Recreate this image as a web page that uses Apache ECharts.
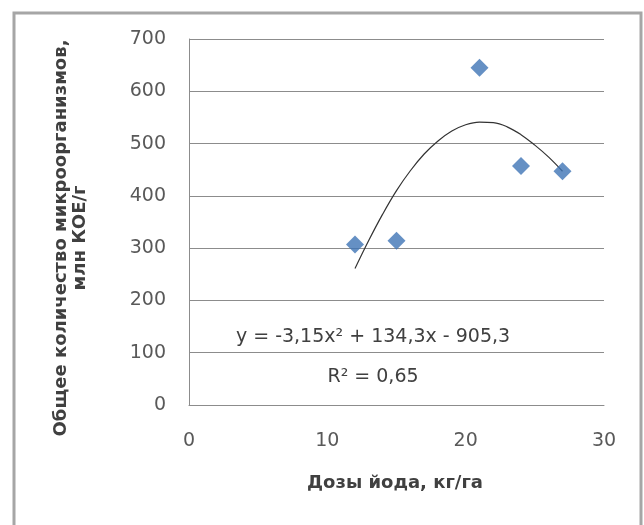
<!DOCTYPE html>
<html>
<head>
<meta charset="utf-8">
<script src="https://cdn.jsdelivr.net/npm/echarts@6/dist/echarts.min.js"></script>
<style>
html,body{margin:0;padding:0;background:#fff;}
#chart{width:644px;height:525px;}
</style>
</head>
<body>
<div id="chart"></div>
<script>
// Observed data points (dose of iodine, kg/ha -> total microorganisms, mln CFU/g)
var doses = [12, 15, 21, 24, 27];
var counts = [307, 314, 645, 457, 447];

// Trendline points
var trendX = [12, 13, 14, 15, 16, 17, 18, 19, 20, 21, 22, 23, 24, 25, 26, 27];
var trendY = [261, 315, 365, 410, 448, 480, 505, 524, 536, 541, 540, 532, 517, 497, 474, 447];

var xTicks = [0, 10, 20, 30];
var yTicks = [0, 100, 200, 300, 400, 500, 600, 700];

var xTitle = 'Дозы йода, кг/га';
var yTitle = 'Общее количество микроорганизмов,\nмлн КОЕ/г';
var eqText = 'y = -3,15x² + 134,3x - 905,3';
var r2Text = 'R² = 0,65';

var chart = echarts.init(document.getElementById('chart'), null, {renderer: 'canvas'});

var scatterData = doses.map(function (d, i) { return [d, counts[i]]; });
var trendData = trendX.map(function (d, i) { return [d, trendY[i]]; });

var font = 'DejaVu Sans';

chart.setOption({
  animation: false,
  backgroundColor: '#ffffff',
  grid: {left: 189, right: 40, top: 39, bottom: 120, containLabel: false},
  xAxis: {
    type: 'value',
    min: xTicks[0], max: xTicks[xTicks.length - 1], interval: 10,
    axisLine: {show: true, onZero: false, lineStyle: {color: '#8c8c8c', width: 1}},
    axisTick: {show: false},
    splitLine: {show: false},
    axisLabel: {color: '#595959', fontFamily: font, fontSize: 19, margin: 27}
  },
  yAxis: {
    type: 'value',
    min: yTicks[0], max: yTicks[yTicks.length - 1], interval: 100,
    axisLine: {show: true, lineStyle: {color: '#8c8c8c', width: 1}},
    axisTick: {show: false},
    splitLine: {show: true, lineStyle: {color: '#8c8c8c', width: 1}},
    axisLabel: {color: '#595959', fontFamily: font, fontSize: 19, margin: 23}
  },
  graphic: [
    {
      type: 'rect', silent: true,
      shape: {x: 14, y: 13, width: 627, height: 520},
      style: {fill: 'none', stroke: '#a6a6a6', lineWidth: 3}
    },
    {
      type: 'text', silent: true, x: 395, y: 483,
      style: {text: xTitle, font: 'bold 18px "' + font + '"', fill: '#404040', align: 'center', verticalAlign: 'middle'}
    },
    {
      type: 'text', silent: true, x: 71, y: 238, rotation: Math.PI / 2,
      style: {text: yTitle, font: 'bold 18px "' + font + '"', fill: '#404040', align: 'center', verticalAlign: 'middle', lineHeight: 19}
    },
    {
      type: 'text', silent: true, x: 373, y: 337, z: 10,
      style: {text: eqText, font: '19px "' + font + '"', fill: '#404040', align: 'center', verticalAlign: 'middle'}
    },
    {
      type: 'text', silent: true, x: 373, y: 377, z: 10,
      style: {text: r2Text, font: '19px "' + font + '"', fill: '#404040', align: 'center', verticalAlign: 'middle'}
    }
  ],
  series: [
    {
      type: 'line',
      data: trendData,
      smooth: 0.4,
      showSymbol: false,
      lineStyle: {color: '#333333', width: 1.2},
      z: 3
    },
    {
      type: 'scatter',
      data: scatterData,
      symbol: 'diamond',
      symbolSize: [18, 18],
      itemStyle: {color: '#3f74b5'},
      z: 4
    }
  ]
});
</script>
</body>
</html>
